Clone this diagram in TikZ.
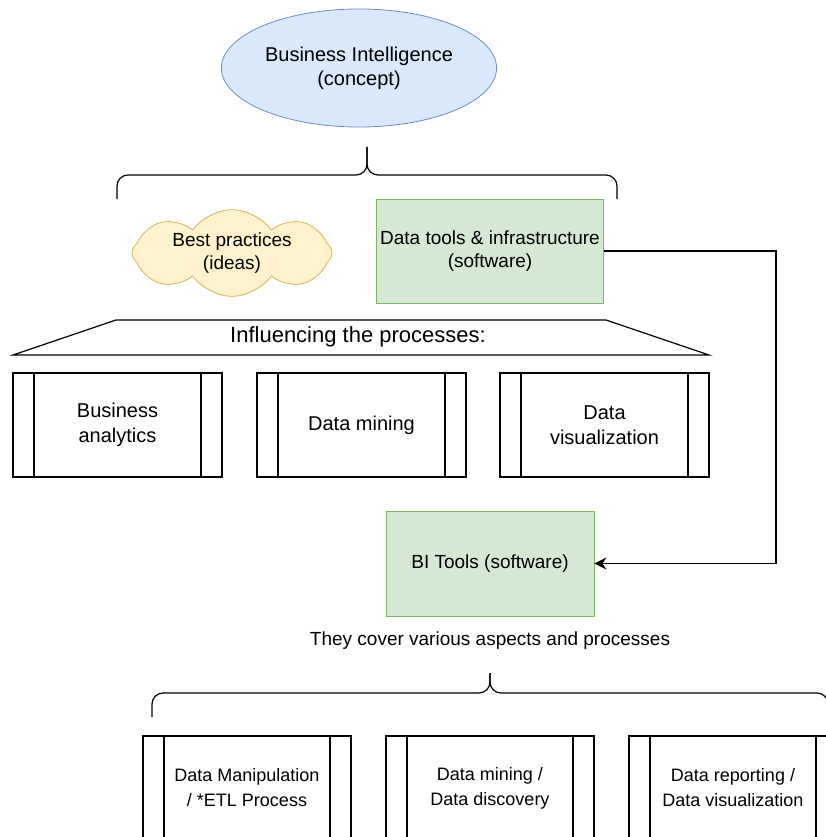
\documentclass[tikz,border=0pt]{standalone}
\usepackage{fontspec}
\setmainfont{Liberation Sans}
\usepackage{tikz}
\usetikzlibrary{shapes,arrows.meta}
\definecolor{bifill}{HTML}{DAE8FC}
\definecolor{bidraw}{HTML}{6C8EBF}
\definecolor{ideafill}{HTML}{FFF2CC}
\definecolor{ideadraw}{HTML}{D6B656}
\definecolor{softfill}{HTML}{D5E8D4}
\definecolor{softdraw}{HTML}{82B366}
\tikzset{concept/.style={draw=bidraw, fill=bifill, ellipse, line width=0.8pt, minimum width=244pt, minimum height=118pt, align=center, font=\fontsize{20}{24}\selectfont}}
\tikzset{idea/.style={draw=ideadraw, fill=ideafill, cloud, cloud puffs=8, cloud puff arc=110, cloud ignores aspect, line width=0.8pt, minimum width=200pt, minimum height=86pt, inner sep=0pt, align=center, font=\fontsize{19}{23}\selectfont}}
\tikzset{soft/.style={draw=softdraw, fill=softfill, rectangle, line width=0.8pt, minimum width=208pt, minimum height=105pt, align=center, font=\fontsize{19}{23}\selectfont}}
\tikzset{procbox/.style={draw=black, rectangle, minimum width=209pt, minimum height=104pt, align=center, font=\fontsize{20}{25}\selectfont,
    path picture={\draw ([xshift=21pt]path picture bounding box.north west) -- ([xshift=21pt]path picture bounding box.south west);
                  \draw ([xshift=-21pt]path picture bounding box.north east) -- ([xshift=-21pt]path picture bounding box.south east);}}}
\tikzset{subproc/.style={procbox, minimum width=208pt, font=\fontsize{18}{25}\selectfont}}

\begin{document}
\begin{tikzpicture}[x=1pt, y=-1pt, line width=1.2pt]
    \useasboundingbox (0,0) rectangle (826,837);
    \node[concept] at (359,68) (bi) {Business Intelligence\\(concept)};
    % upper brace
    \draw[rounded corners=11pt] (117,199) |- (367,175) -- (367,147);
    \draw[rounded corners=11pt] (617,199) |- (367,175) -- (367,147);
    \node[idea] at (232,253) (ideas) {Best practices\\(ideas)};
    \node[soft, minimum width=226pt, minimum height=104pt] at (490,251) (tools) {Data tools \& infrastructure\\(software)};
    % processes
    \draw (13,355) -- (116,320) -- (606,320) -- (709,355) -- cycle;
    \node[font=\fontsize{22}{26}\selectfont] at (358,337) (infl) {Influencing the processes:};
    \node[procbox] at (117.5,425) (analytics) {Business\\analytics};
    \node[procbox, right of=analytics, node distance=244pt] (mining) {Data mining};
    \node[procbox, right of=mining, node distance=243pt] (visual) {Data\\visualization};
    \node[soft] at (490,563.5) (bitools) {BI Tools (software)};
    \coordinate (bend) at (776,251);
    \draw[-{Stealth[length=12pt,width=12pt]}] (tools.east) -- (bend) |- (bitools.east);
    \node[font=\fontsize{19}{23}\selectfont] at (490,641) (cover) {They cover various aspects and processes};
    % lower brace
    \draw[rounded corners=11pt] (152,717) |- (490,693) -- (490,673);
    \draw[rounded corners=11pt] (828,717) |- (490,693) -- (490,673);
    \node[subproc] at (247,788) (etl) {Data Manipulation\\/ *ETL Process};
    \node[subproc, right of=etl, node distance=243pt] (discovery) {Data mining /\\Data discovery};
    \node[subproc, right of=discovery, node distance=243pt] (reporting) {Data reporting /\\Data visualization};
\end{tikzpicture}
\end{document}
